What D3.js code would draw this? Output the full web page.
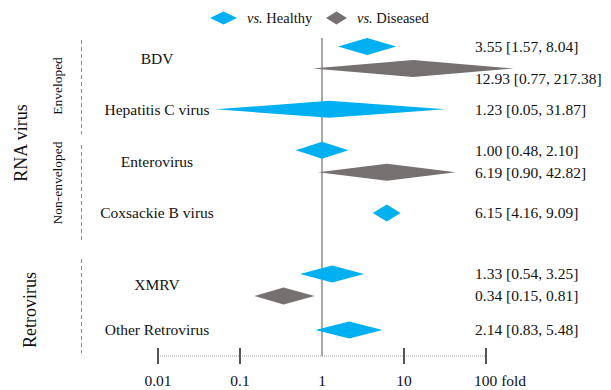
<!DOCTYPE html>
<meta charset="utf-8">
<head>
    <title>Forest plot</title>
    <script src="https://cdn.jsdelivr.net/npm/d3@7"></script>
    <style>
        body { margin: 0; background: #fff; }
        text { font-family: "Liberation Serif", "Times New Roman", serif; fill: #111; }
    </style>
</head>
<body>
<div id="chart"></div>
<script>

    // data
    var rows = ["BDV", "Hepatitis C virus", "Enterovirus", "Coxsackie B virus", "XMRV", "Other Retrovirus"];
    var rowGroup = ["rna", "rna", "rna", "rna", "retro", "retro"];

    // vs. Healthy
    var healthyOR = [3.55, 1.23, 1.00, 6.15, 1.33, 2.14];
    var healthyLo = [1.57, 0.05, 0.48, 4.16, 0.54, 0.83];
    var healthyHi = [8.04, 31.87, 2.10, 9.09, 3.25, 5.48];

    // vs. Diseased (null = not reported)
    var diseasedOR = [12.93, null, 6.19, null, 0.34, null];
    var diseasedLo = [0.77, null, 0.90, null, 0.15, null];
    var diseasedHi = [217.38, null, 42.82, null, 0.81, null];

    var tickValues = [0.01, 0.1, 1, 10, 100];
    var tickLabels = ["0.01", "0.1", "1", "10", "100 fold"];

    var width = 611, height = 390;
    var blue = "#00b0f0", grey = "#767171";

    var svg = d3.select("#chart").append("svg")
        .attr("width", width)
        .attr("height", height);

    // log scale for fold change
    var x = d3.scaleLog().domain([0.01, 100]).range([158, 486]);

    // rows: two blocks, rna and retro
    var yRna = d3.scalePoint().domain(rows.filter((d, i) => rowGroup[i] == "rna")).range([57.5, 213]);
    var yRetro = d3.scalePoint().domain(rows.filter((d, i) => rowGroup[i] == "retro")).range([285, 330]);
    function yRow(i) { return rowGroup[i] == "rna" ? yRna(rows[i]) : yRetro(rows[i]); }

    // build the table of diamonds
    var marks = [];
    rows.forEach(function (r, i) {
        var both = diseasedOR[i] != null;
        marks.push({ row: i, type: "h", or: healthyOR[i], lo: healthyLo[i], hi: healthyHi[i],
            y: yRow(i) - (both ? 11 : 0) });
        if (both) {
            marks.push({ row: i, type: "d", or: diseasedOR[i], lo: diseasedLo[i], hi: diseasedHi[i],
                y: yRow(i) + 11 });
        }
    });

    // vertical line at 1
    svg.append("line")
        .attr("x1", x(1)).attr("x2", x(1))
        .attr("y1", 38).attr("y2", 356)
        .attr("stroke", "#6f6f6f").attr("stroke-width", 1.2);

    // diamonds
    function diamond(d) {
        var h = 8.5;
        return "M" + x(d.lo) + "," + d.y +
            "L" + x(d.or) + "," + (d.y - h) +
            "L" + x(d.hi) + "," + d.y +
            "L" + x(d.or) + "," + (d.y + h) + "Z";
    }
    svg.append("g").selectAll("path")
        .data(marks)
        .enter()
        .append("path")
        .attr("d", diamond)
        .attr("fill", d => d.type == "h" ? blue : grey);

    // value labels on the right
    var fmt = d3.format(".2f");
    svg.append("g").selectAll("text")
        .data(marks)
        .enter()
        .append("text")
        .attr("x", 475)
        // push label down when the diamond runs into it
        .attr("y", d => d.y + (x(d.hi) > 475 ? 10 : 0))
        .attr("dy", "0.35em")
        .attr("font-size", 15.5)
        .text(d => fmt(d.or) + " [" + fmt(d.lo) + ", " + fmt(d.hi) + "]");

    // row names
    svg.append("g").selectAll("text")
        .data(rows)
        .enter()
        .append("text")
        .attr("x", 157)
        .attr("y", (d, i) => yRow(i) + (i == 0 ? 1.5 : 0))
        .attr("dy", "0.35em")
        .attr("text-anchor", "middle")
        .attr("font-size", 15.5)
        .text(d => d);

    // dashed group separators
    var segments = [[40, 134], [145, 240], [259, 353]];
    svg.append("g").selectAll("line")
        .data(segments)
        .enter()
        .append("line")
        .attr("x1", 81.5).attr("x2", 81.5)
        .attr("y1", d => d[0]).attr("y2", d => d[1])
        .attr("stroke", "#8c8c8c")
        .attr("stroke-dasharray", "4,3");

    // rotated group labels
    function vlabel(txt, cx, cy, size) {
        svg.append("text")
            .attr("transform", "translate(" + cx + "," + cy + ") rotate(-90)")
            .attr("text-anchor", "middle")
            .attr("dy", "0.35em")
            .attr("font-size", size)
            .text(txt);
    }
    vlabel("RNA virus", 21, 143, 18);
    vlabel("Retrovirus", 30, 310, 18);
    vlabel("Enveloped", 57, 86, 13.5);
    vlabel("Non-enveloped", 57, 183, 13.5);

    // x axis
    var axisY = 356;
    svg.append("line")
        .attr("x1", x(0.01)).attr("x2", x(100))
        .attr("y1", axisY).attr("y2", axisY)
        .attr("stroke", "#9a9a9a")
        .attr("stroke-dasharray", "1,1");
    svg.append("g").selectAll("line")
        .data(tickValues.filter(d => d != 1))
        .enter()
        .append("line")
        .attr("x1", d => x(d)).attr("x2", d => x(d))
        .attr("y1", axisY - 8).attr("y2", axisY + 8)
        .attr("stroke", "#555").attr("stroke-width", 2);
    svg.append("g").selectAll("text")
        .data(tickValues)
        .enter()
        .append("text")
        .attr("x", d => x(d))
        .attr("y", 381)
        .attr("dy", "0.35em")
        .attr("text-anchor", (d, i) => i == tickValues.length - 1 ? "start" : "middle")
        .attr("dx", (d, i) => i == tickValues.length - 1 ? -12 : 0)
        .attr("font-size", 15.5)
        .text((d, i) => tickLabels[i]);

    // legend
    var legend = svg.append("g");
    legend.append("path")
        .attr("d", "M210,18L223.5,11.5L237,18L223.5,24.5Z")
        .attr("fill", blue);
    legend.append("path")
        .attr("d", "M326,18L336.5,11.5L347,18L336.5,24.5Z")
        .attr("fill", grey);
    var lt1 = legend.append("text").attr("x", 247).attr("y", 18).attr("dy", "0.35em").attr("font-size", 14.5);
    lt1.append("tspan").attr("font-style", "italic").text("vs.");
    lt1.append("tspan").text(" Healthy");
    var lt2 = legend.append("text").attr("x", 357).attr("y", 18).attr("dy", "0.35em").attr("font-size", 14.5);
    lt2.append("tspan").attr("font-style", "italic").text("vs.");
    lt2.append("tspan").text(" Diseased");

</script>
</body>
</html>
